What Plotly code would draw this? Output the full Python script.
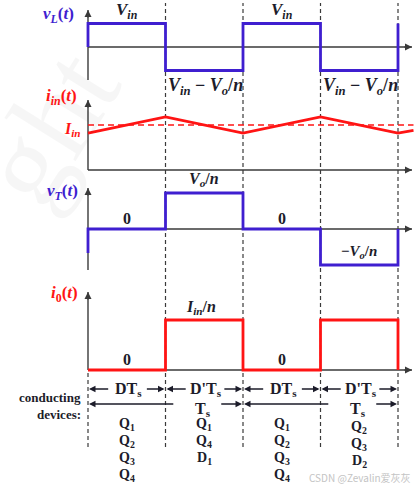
import plotly.graph_objects as go

# ---------------- data ----------------
t_edges = [0.0, 0.5, 1.0, 1.5, 2.0]          # switching instants (units of T), D = 0.5

vL_t = [0, 0, 0.5, 0.5, 1.0, 1.0, 1.5, 1.5, 2.0, 2.0]
vL_v = [0, 1, 1, -1, -1, 1, 1, -1, -1, 1]          # +Vin / (Vin - Vo/n)

iin_t = [0, 0.5, 1.0, 1.5, 2.0, 2.1]
iin_v = [0.82, 1.18, 0.82, 1.18, 0.82, 0.88]       # ripple around Iin = 1
Iin_avg = 1.0

vT_t = [0, 0, 0.5, 0.5, 1.0, 1.0, 1.5, 1.5, 2.0, 2.0]
vT_v = [-0.67, 0, 0, 1, 1, 0, 0, -1, -1, 0]        # 0 / Vo/n / -Vo/n

i0_t = [0, 0.5, 0.5, 1.0, 1.0, 1.5, 1.5, 2.0, 2.0]
i0_v = [0, 0, 1, 1, 0, 0, 1, 1, 0]                 # 0 / Iin/n

phase_labels = ["DT<sub>s</sub>", "D'T<sub>s</sub>", "DT<sub>s</sub>", "D'T<sub>s</sub>"]
period_labels = ["T<sub>s</sub>", "T<sub>s</sub>"]
devices = [
    ["Q<sub>1</sub>", "Q<sub>2</sub>", "Q<sub>3</sub>", "Q<sub>4</sub>"],
    ["Q<sub>1</sub>", "Q<sub>4</sub>", "D<sub>1</sub>"],
    ["Q<sub>1</sub>", "Q<sub>2</sub>", "Q<sub>3</sub>", "Q<sub>4</sub>"],
    ["Q<sub>2</sub>", "Q<sub>3</sub>", "D<sub>2</sub>"],
]

# ---------------- layout helpers ----------------
W, H = 414, 487
X0, PXT = 88, 155.0           # pixel of t=0, pixels per T


def tx(px):
    return (px - X0) / PXT


def py(px):
    return 1 - px / H


# panel: (zero px, px per unit, top px, bottom px)
PAN = {
    "y": (47, 23.5, 0, 95),
    "y2": (170, 45, 95, 180),
    "y3": (229, 36, 180, 280),
    "y4": (370, 50, 280, 376),
}


def val(ax, px):
    z, u, _, _ = PAN[ax]
    return (z - px) / u


BLUE = "#3F1FD0"
RED = "#FF1414"
AX = "#3a3a3a"
TXT = "#1c1c2a"
SERIF = "Liberation Serif"
LW = 2.8

fig = go.Figure()

fig.add_trace(go.Scatter(x=vL_t, y=vL_v, mode="lines", line=dict(color=BLUE, width=LW),
                         yaxis="y", hoverinfo="skip"))
fig.add_trace(go.Scatter(x=iin_t, y=iin_v, mode="lines", line=dict(color=RED, width=LW),
                         yaxis="y2", hoverinfo="skip"))
fig.add_trace(go.Scatter(x=[0, iin_t[-1]], y=[Iin_avg, Iin_avg], mode="lines",
                         line=dict(color=RED, width=1.6, dash="6px,4px"),
                         yaxis="y2", hoverinfo="skip"))
fig.add_trace(go.Scatter(x=vT_t, y=vT_v, mode="lines", line=dict(color=BLUE, width=LW),
                         yaxis="y3", hoverinfo="skip"))
fig.add_trace(go.Scatter(x=i0_t, y=i0_v, mode="lines", line=dict(color=RED, width=LW),
                         yaxis="y4", hoverinfo="skip"))

shapes = []
ann = []

# axes with arrows
axis_tips = {"y": (10, 80), "y2": (100, 170), "y3": (188, 270), "y4": (292, 370)}
x_end = tx(412)
for ax, (top, bot) in axis_tips.items():
    shapes.append(dict(type="line", xref="x", yref=ax, x0=0, x1=0, y0=val(ax, bot), y1=val(ax, top),
                       line=dict(color=AX, width=1.4), layer="below"))
    shapes.append(dict(type="line", xref="x", yref=ax, x0=0, x1=x_end, y0=0, y1=0,
                       line=dict(color=AX, width=1.4), layer="below"))
    ann.append(dict(x=0, y=val(ax, top), xref="x", yref=ax, ax=0, ay=9, showarrow=True,
                    arrowhead=2, arrowsize=1, arrowwidth=1.4, arrowcolor=AX, text=""))
    ann.append(dict(x=x_end, y=0, xref="x", yref=ax, ax=-9, ay=0, showarrow=True,
                    arrowhead=2, arrowsize=1, arrowwidth=1.4, arrowcolor=AX, text=""))

# dashed switching lines
for t in t_edges[1:]:
    shapes.append(dict(type="line", xref="x", yref="paper", x0=t, x1=t, y0=py(447), y1=py(3),
                       line=dict(color=AX, width=1.2, dash="4px,3px"), layer="below"))
shapes.append(dict(type="line", xref="x", yref="paper", x0=0, x1=0, y0=py(447), y1=py(372),
                   line=dict(color=AX, width=1.2, dash="4px,3px"), layer="below"))


def label(text, x, y, xref="x", yref="paper", color=TXT, size=16, xanchor="center",
          yanchor="middle", yshift=0, family=SERIF):
    ann.append(dict(text=text, x=x, y=y, xref=xref, yref=yref, showarrow=False,
                    font=dict(family=family, size=size, color=color),
                    xanchor=xanchor, yanchor=yanchor, yshift=yshift))


# watermark (drawn first, behind other texts)
ann.append(dict(text="ght", x=tx(48), y=py(128), xref="x", yref="paper", showarrow=False,
                xanchor="center", yanchor="middle", textangle=-58,
                font=dict(family=SERIF, size=120, color="rgba(0,0,0,0.035)")))

# panel titles
label("<b><i>v</i><sub><i>L</i></sub>(<i>t</i>)</b>", tx(76), py(15), color=BLUE, size=17, xanchor="right")
label("<b><i>i</i><sub><i>in</i></sub>(<i>t</i>)</b>", tx(79), py(97), color=RED, size=17, xanchor="right")
label("<b><i>I</i><sub><i>in</i></sub></b>", tx(83), py(129), color=RED, size=16, xanchor="right")
label("<b><i>v</i><sub><i>T</i></sub>(<i>t</i>)</b>", tx(80), py(192), color=BLUE, size=17, xanchor="right")
label("<b><i>i</i><sub>0</sub>(<i>t</i>)</b>", tx(80), py(294), color=RED, size=17, xanchor="right")

# level labels
vin = "<b><i>V</i><sub><i>in</i></sub></b>"
vdiff = "<b><i>V</i><sub><i>in</i></sub> − <i>V</i><sub><i>o</i></sub>/<i>n</i></b>"
for k in (0, 2):
    c = (t_edges[k] + t_edges[k + 1]) / 2
    c2 = (t_edges[k + 1] + t_edges[k + 2]) / 2
    label(vin, c, 1, yref="y", yshift=13, size=17)
    label(vdiff, c2 + 0.01, -1, yref="y", yshift=-16, size=18)
    label("<b>0</b>", c, 0, yref="y3", yshift=10)
    label("<b>0</b>", c, 0, yref="y4", yshift=11)
label("<b><i>V</i><sub><i>o</i></sub>/<i>n</i></b>", 0.75, 1, yref="y3", yshift=13)
label("<b>−<i>V</i><sub><i>o</i></sub>/<i>n</i></b>", 1.75, -1, yref="y3", yshift=13, size=15)
label("<b><i>I</i><sub><i>in</i></sub>/<i>n</i></b>", 0.73, 1, yref="y4", yshift=13)

# bottom annotations
label("<b>conducting</b>", tx(83), py(397), size=13, xanchor="right")
label("<b>devices:</b>", tx(83), py(414), size=13, xanchor="right")


def arrow(head, tail, y):
    ann.append(dict(x=head, y=y, ax=tail, ay=y, xref="x", yref="y5", axref="x", ayref="y5",
                    showarrow=True, arrowhead=2, arrowsize=1, arrowwidth=1.3, arrowcolor=TXT,
                    standoff=1, text=""))


R1, R2 = 389, 404
for i, txt in enumerate(phase_labels):
    a, b = t_edges[i], t_edges[i + 1]
    c = (a + b) / 2
    arrow(a, c - 0.11, R1)
    arrow(b, c + 0.12, R1)
    label("<b>" + txt + "</b>", c + 0.01, R1, yref="y5", size=16)
for j, txt in enumerate(period_labels):
    a, b = t_edges[2 * j], t_edges[2 * j + 2]
    arrow(a, a + 0.56, R2)
    arrow(b, a + 0.85, R2)
    label("<b>" + txt + "</b>", a + 0.74, 409, yref="y5", size=16)

for i, devs in enumerate(devices):
    c = (t_edges[i] + t_edges[i + 1]) / 2
    y0 = 424 if i < 3 else 427
    for k, d in enumerate(devs):
        label("<b>" + d + "</b>", c, y0 + 17.3 * k, yref="y5", size=14)

label("CSDN @Zevalin爱灰灰", tx(360), py(477), size=10, color="#c4c4c4",
      family="Noto Sans CJK SC")

layout_axes = {}
for ax, (z, u, top, bot) in PAN.items():
    name = "yaxis" if ax == "y" else "yaxis" + ax[1:]
    layout_axes[name] = dict(domain=[py(bot), py(top)], range=[val(ax, bot), val(ax, top)],
                             visible=False, fixedrange=True, anchor="x")
layout_axes["yaxis5"] = dict(domain=[0, py(376)], range=[H, 376], visible=False,
                             fixedrange=True, anchor="x")

fig.update_layout(
    width=W, height=H, margin=dict(l=0, r=0, t=0, b=0),
    paper_bgcolor="white", plot_bgcolor="white", showlegend=False,
    xaxis=dict(range=[tx(0), tx(W)], visible=False, fixedrange=True),
    shapes=shapes, annotations=ann, **layout_axes,
)

fig.write_html("out.html", config={"displayModeBar": False},
               post_script="document.body.style.margin='0';document.body.style.overflow='hidden';")
